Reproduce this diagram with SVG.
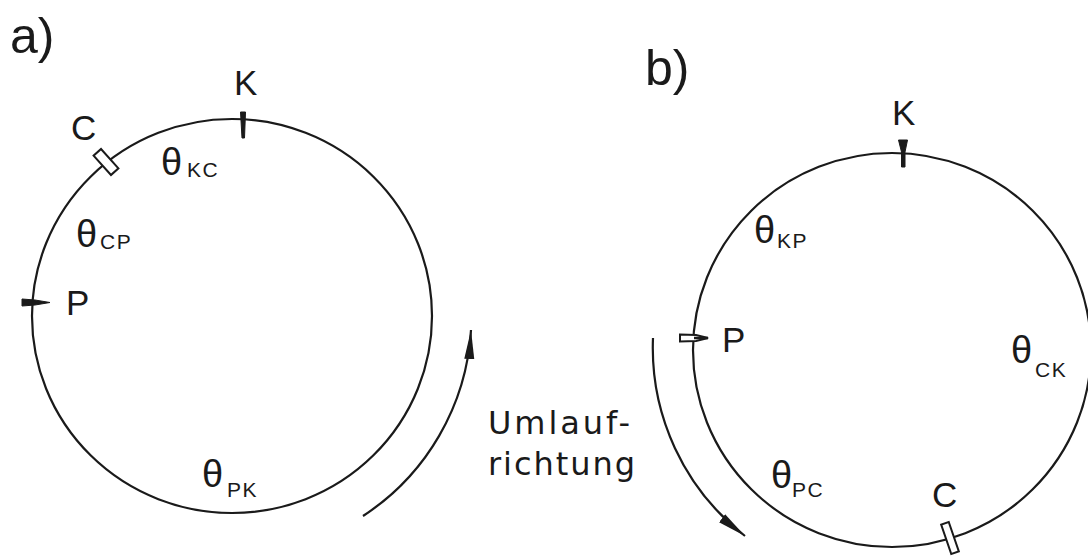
<svg xmlns="http://www.w3.org/2000/svg" width="1088" height="557" viewBox="0 0 1088 557">
<defs>
<style>
.ring{fill:none;stroke:#1a1a1a;stroke-width:2.2}
.arc{fill:none;stroke:#1a1a1a;stroke-width:2.2}
.t{font-family:"Liberation Sans",Arial,sans-serif;fill:#1a1a1a}
.big{font-size:50px}
.lbl{font-size:35px}
.th{font-size:38px}
.sub{font-size:21px;letter-spacing:1.5px}
.um{font-family:"DejaVu Sans",sans-serif;font-size:32px}
.mk{fill:#1a1a1a;stroke:#1a1a1a;stroke-width:1}
.box{fill:#fff;stroke:#1a1a1a;stroke-width:2}
</style>
<marker id="ah" markerUnits="userSpaceOnUse" markerWidth="30" markerHeight="12" viewBox="0 0 30 12" refX="29" refY="6" orient="auto">
<path d="M0,1 L29,6 L0,11 Z" fill="#1a1a1a"/>
</marker>
</defs>
<rect width="1088" height="557" fill="#fff"/>

<g id="panel-a">
<text class="t big" x="10" y="53">a)</text>
<g id="ring-a"><ellipse class="ring" cx="232" cy="316" rx="200" ry="197"/></g>
<g id="K-a">
<polygon class="mk" points="240.5,112 245.5,112 244.5,138 242,138"/>
<text class="t lbl" x="234" y="95">K</text>
</g>
<g id="C-a">
<rect class="box" x="93" y="157" width="26" height="10" transform="rotate(48 106 162)"/>
<text class="t lbl" x="71" y="140">C</text>
</g>
<g id="P-a">
<polygon class="mk" points="22,299 35,300 50,302.5 35,305 22,306"/>
<text class="t lbl" x="66" y="315">P</text>
</g>
<g id="theta-KC"><text class="t th" x="161" y="175">θ<tspan class="sub" x="187" y="177">KC</tspan></text></g>
<g id="theta-CP"><text class="t th" x="76" y="247">θ<tspan class="sub" x="100" y="249">CP</tspan></text></g>
<g id="theta-PK"><text class="t th" x="202" y="487">θ<tspan class="sub" x="227" y="497">PK</tspan></text></g>
</g>

<g id="panel-b">
<text class="t big" x="645" y="85">b)</text>
<g id="ring-b"><ellipse class="ring" cx="892" cy="350" rx="199" ry="197"/></g>
<g id="K-b">
<polygon class="mk" points="898.5,140 907.5,140 905,152 905,167 901.5,167 901.5,152"/>
<text class="t lbl" x="892" y="125">K</text>
</g>
<g id="C-b">
<rect class="box" x="946" y="522.5" width="8" height="31" transform="rotate(-19 950 538)"/>
<text class="t lbl" x="932" y="507">C</text>
</g>
<g id="P-b">
<polygon class="box" points="680,334.5 696,335 708,338 696,341 680,341.5"/>
<line x1="694" y1="338" x2="708" y2="338" stroke="#1a1a1a" stroke-width="2.5"/>
<text class="t lbl" x="722" y="352">P</text>
</g>
<g id="theta-KP"><text class="t th" x="754" y="243">θ<tspan class="sub" x="777" y="248">KP</tspan></text></g>
<g id="theta-CK"><text class="t th" x="1011" y="363">θ<tspan class="sub" x="1035" y="377">CK</tspan></text></g>
<g id="theta-PC"><text class="t th" x="771" y="488">θ<tspan class="sub" x="792" y="497">PC</tspan></text></g>
</g>

<g id="direction-label">
<text class="t um" x="488" y="434" textLength="142" lengthAdjust="spacing">Umlauf-</text>
<text class="t um" x="488" y="475" textLength="147" lengthAdjust="spacing">richtung</text>
</g>

<g id="connectors">
<path class="arc" d="M363,516 A239,239 0 0 0 471,330" marker-end="url(#ah)"/>
<path class="arc" d="M653,338 A238,238 0 0 0 745,536" marker-end="url(#ah)"/>
</g>
</svg>
